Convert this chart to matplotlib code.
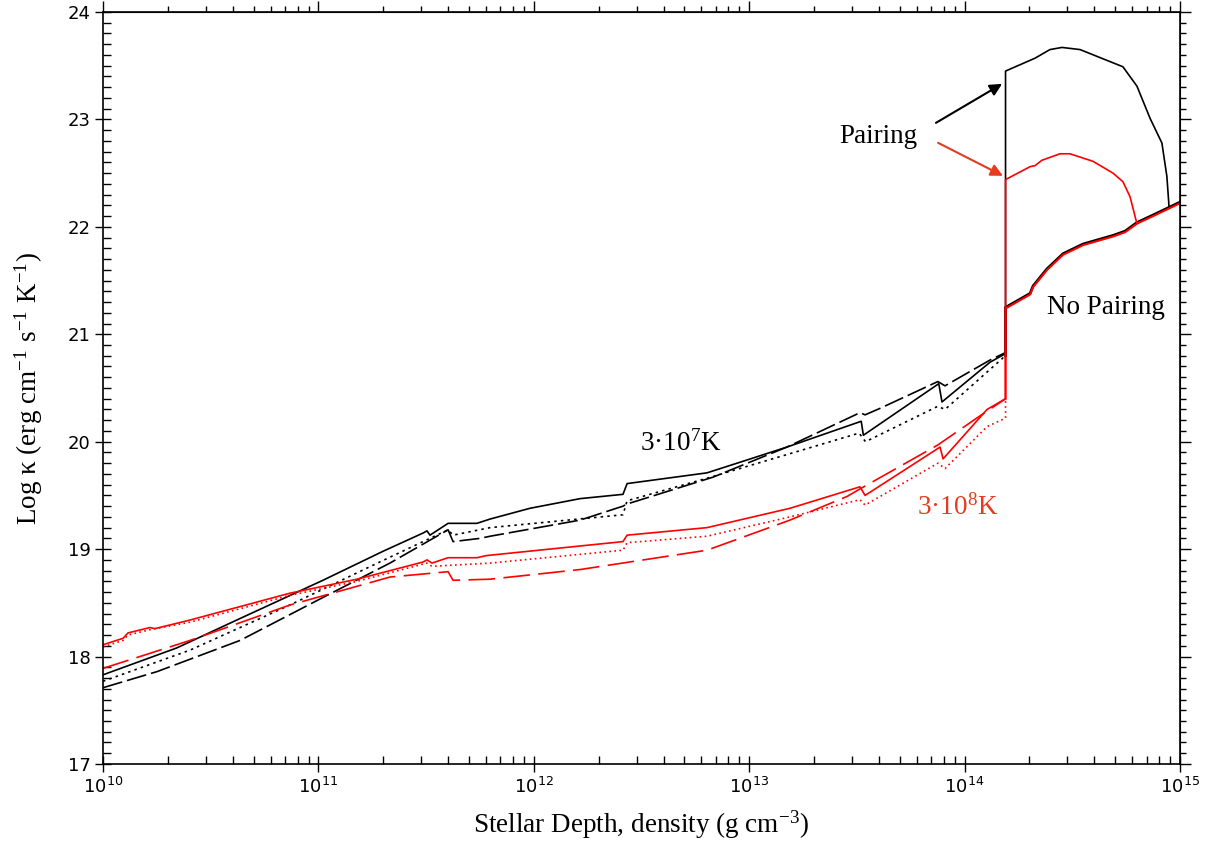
import numpy as np
import matplotlib
matplotlib.use("Agg")
import matplotlib.pyplot as plt
from matplotlib.ticker import MultipleLocator, NullFormatter, LogLocator

plt.rcParams['mathtext.fontset'] = 'dejavusans'

# ---------------- data (log10 density, log10 kappa) ----------------
JUMP = 14.19

bs_logrho = [10.000, 10.342, 10.621, 11.021, 11.300, 11.486, 11.504, 11.518, 11.602, 11.736, 11.797,
             11.982, 12.215, 12.414, 12.433, 12.804, 12.990, 13.175, 13.520, 13.530, 13.880, 13.895,
             14.118, JUMP, JUMP, 14.304, 14.327, 14.396, 14.452, 14.536, 14.735, 14.800, 14.861,
             14.916, 14.939, 14.949]
bs_logk = [17.83, 18.08, 18.34, 18.71, 18.98, 19.15, 19.17, 19.13, 19.24, 19.24, 19.28,
           19.38, 19.47, 19.51, 19.61, 19.71, 19.83, 19.95, 20.19, 20.06, 20.54, 20.37,
           20.74, 20.82, 23.45, 23.55, 23.57, 23.65, 23.67, 23.65, 23.49, 23.31, 23.01,
           22.78, 22.47, 22.19]

bd_logrho = [10.000, 10.404, 10.868, 11.253, 11.602, 11.625, 11.797, 12.414, 12.433, 12.804,
             13.175, 13.510, 13.540, 13.876, 13.909, 14.178, JUMP]
bd_logk = [17.77, 18.06, 18.48, 18.85, 19.18, 19.13, 19.20, 19.32, 19.45, 19.66,
           19.88, 20.08, 20.00, 20.33, 20.30, 20.78, 20.78]

bda_logrho = [10.000, 10.251, 10.636, 11.021, 11.332, 11.602, 11.625, 11.750, 11.797, 12.215,
              12.414, 12.433, 12.832, 13.175, 13.514, 13.538, 13.607, 13.876, 13.909, 14.118, JUMP]
bda_logk = [17.71, 17.86, 18.15, 18.55, 18.87, 19.18, 19.07, 19.10, 19.12, 19.27,
            19.40, 19.42, 19.67, 19.95, 20.27, 20.25, 20.31, 20.56, 20.52, 20.76, 20.83]

rs_logrho = [10.000, 10.093, 10.116, 10.218, 10.241, 10.404, 10.868, 11.179, 11.486, 11.504,
             11.527, 11.602, 11.736, 11.780, 12.414, 12.433, 12.804, 13.189, 13.514, 13.538,
             13.886, 13.900, 14.104, JUMP, JUMP, 14.304, 14.327, 14.359, 14.443, 14.489, 14.596,
             14.689, 14.735, 14.768, 14.800]
rs_logk = [18.11, 18.17, 18.22, 18.27, 18.26, 18.34, 18.59, 18.72, 18.88, 18.90,
           18.87, 18.92, 18.92, 18.94, 19.07, 19.13, 19.20, 19.38, 19.58, 19.50,
           19.95, 19.84, 20.30, 20.40, 22.44, 22.56, 22.57, 22.62, 22.68, 22.68, 22.61,
           22.50, 22.42, 22.28, 22.03]

rd_logrho = [10.000, 10.093, 10.116, 10.218, 10.404, 10.868, 11.179, 11.504, 11.527, 11.797,
             12.414, 12.433, 12.804, 13.189, 13.514, 13.538, 13.876, 13.909, 14.104, JUMP, JUMP]
rd_logk = [18.09, 18.15, 18.20, 18.25, 18.32, 18.57, 18.70, 18.87, 18.84, 18.87,
           18.99, 19.06, 19.12, 19.30, 19.46, 19.41, 19.80, 19.75, 20.14, 20.22, 20.40]

rda_logrho = [10.000, 10.404, 10.868, 11.332, 11.602, 11.625, 11.797, 12.215, 12.804, 13.189,
              13.454, 13.514, 13.876, 14.071, JUMP]
rda_logk = [17.89, 18.15, 18.48, 18.74, 18.79, 18.71, 18.72, 18.81, 18.99, 19.27,
            19.49, 19.56, 19.97, 20.24, 20.40]

# no-pairing high-density branch
np_logrho = [JUMP, JUMP, 14.304, 14.318, 14.383, 14.457, 14.550, 14.689, 14.745, 14.800, 14.875, 15.000]
np_black_logk = [20.80, 21.25, 21.38, 21.45, 21.61, 21.75, 21.84, 21.92, 21.96, 22.04, 22.11, 22.23]
np_red_logk = [20.40, 21.24, 21.37, 21.44, 21.60, 21.74, 21.83, 21.91, 21.95, 22.03, 22.10, 22.22]

RED = '#ff0000'
TRED = '#e63b1f'

def rho(a):
    return 10 ** np.asarray(a)

fig = plt.figure(figsize=(12.15, 8.5), dpi=100)
ax = fig.add_axes([0.0848, 0.1012, 0.9712 - 0.0848, 0.9859 - 0.1012])

lw = 1.2
ax.plot(rho(bd_logrho), bd_logk, color='black', lw=lw, linestyle=(0, (1.5, 2.5)))
ax.plot(rho(bda_logrho), bda_logk, color='black', lw=lw, linestyle=(0, (12, 3)))
ax.plot(rho(np_logrho), np_black_logk, color='black', lw=2.0)
ax.plot(rho(bs_logrho), bs_logk, color='black', lw=lw)
ax.plot(rho(rd_logrho), rd_logk, color=RED, lw=lw, linestyle=(0, (1, 2)))
ax.plot(rho(rda_logrho), rda_logk, color=RED, lw=lw, linestyle=(0, (16, 5)))
ax.plot(rho(rs_logrho), rs_logk, color=RED, lw=lw)
ax.plot(rho(np_logrho), np_red_logk, color=RED, lw=1.5)

ax.set_xscale('log')
ax.set_xlim(1e10, 1e15)
ax.set_ylim(17, 24)
ax.yaxis.set_major_locator(MultipleLocator(1))
ax.yaxis.set_minor_locator(MultipleLocator(0.1))
ax.xaxis.set_minor_locator(LogLocator(base=10, subs=np.arange(2, 10)))
ax.xaxis.set_minor_formatter(NullFormatter())

ax.tick_params(which='major', direction='inout', length=12, width=1.0, labelsize=13,
               top=False, right=False, pad=3)
ax.tick_params(which='minor', direction='in', length=6, width=1.0, top=False, right=False)
for lab in ax.get_yticklabels() + ax.get_xticklabels():
    lab.set_fontfamily('DejaVu Sans')
for sp in ax.spines.values():
    sp.set_linewidth(1.2)

secx = ax.secondary_xaxis('top')
secx.tick_params(which='major', direction='out', length=8, width=1.0, labeltop=False)
secx.tick_params(which='minor', direction='out', length=4, width=1.0)
secx.xaxis.set_minor_locator(LogLocator(base=10, subs=np.arange(2, 10)))
secx.xaxis.set_minor_formatter(NullFormatter())
secx.xaxis.set_major_formatter(NullFormatter())

secy = ax.secondary_yaxis('right')
secy.yaxis.set_major_locator(MultipleLocator(1))
secy.yaxis.set_minor_locator(MultipleLocator(0.1))
secy.tick_params(which='major', direction='out', length=8, width=1.0, labelright=False)
secy.tick_params(which='minor', direction='out', length=4, width=1.0)
secy.yaxis.set_major_formatter(NullFormatter())

serif = 'Liberation Serif'
ax.set_xlabel('Stellar Depth, density (g cm$^{\\mathdefault{-3}}$)', fontsize=19.5,
              family=serif, math_fontfamily='stix', labelpad=8)
ax.set_ylabel('Log \u03ba (erg cm$^{\\mathdefault{-1}}$ s$^{\\mathdefault{-1}}$ K$^{\\mathdefault{-1}}$)',
              fontsize=19.5, family=serif, math_fontfamily='stix', labelpad=16)

ax.text(rho(12.683), 19.989, '3\u00b710$^{\\mathdefault{7}}$K', fontsize=19.5, family=serif,
        math_fontfamily='stix', ha='center', va='center', color='black')
ax.text(rho(13.969), 19.393, '3\u00b710$^{\\mathdefault{8}}$K', fontsize=19.5, family=serif,
        math_fontfamily='stix', ha='center', va='center', color=TRED)
ax.text(rho(14.656), 21.246, 'No Pairing', fontsize=19.5, family=serif,
        ha='center', va='center', color='black')
ax.text(rho(13.598), 22.84, 'Pairing', fontsize=19.5, family=serif,
        ha='center', va='center', color='black')

ax.annotate('', xy=(rho(14.174), 23.331), xytext=(rho(13.867), 22.968),
            arrowprops=dict(arrowstyle='-|>', color='black', lw=1.5, mutation_scale=18,
                            shrinkA=0, shrinkB=0))
ax.annotate('', xy=(rho(14.178), 22.475), xytext=(rho(13.877), 22.782),
            arrowprops=dict(arrowstyle='-|>', color=TRED, lw=1.5, mutation_scale=18,
                            shrinkA=0, shrinkB=0))

fig.savefig('out.png', dpi=100)
